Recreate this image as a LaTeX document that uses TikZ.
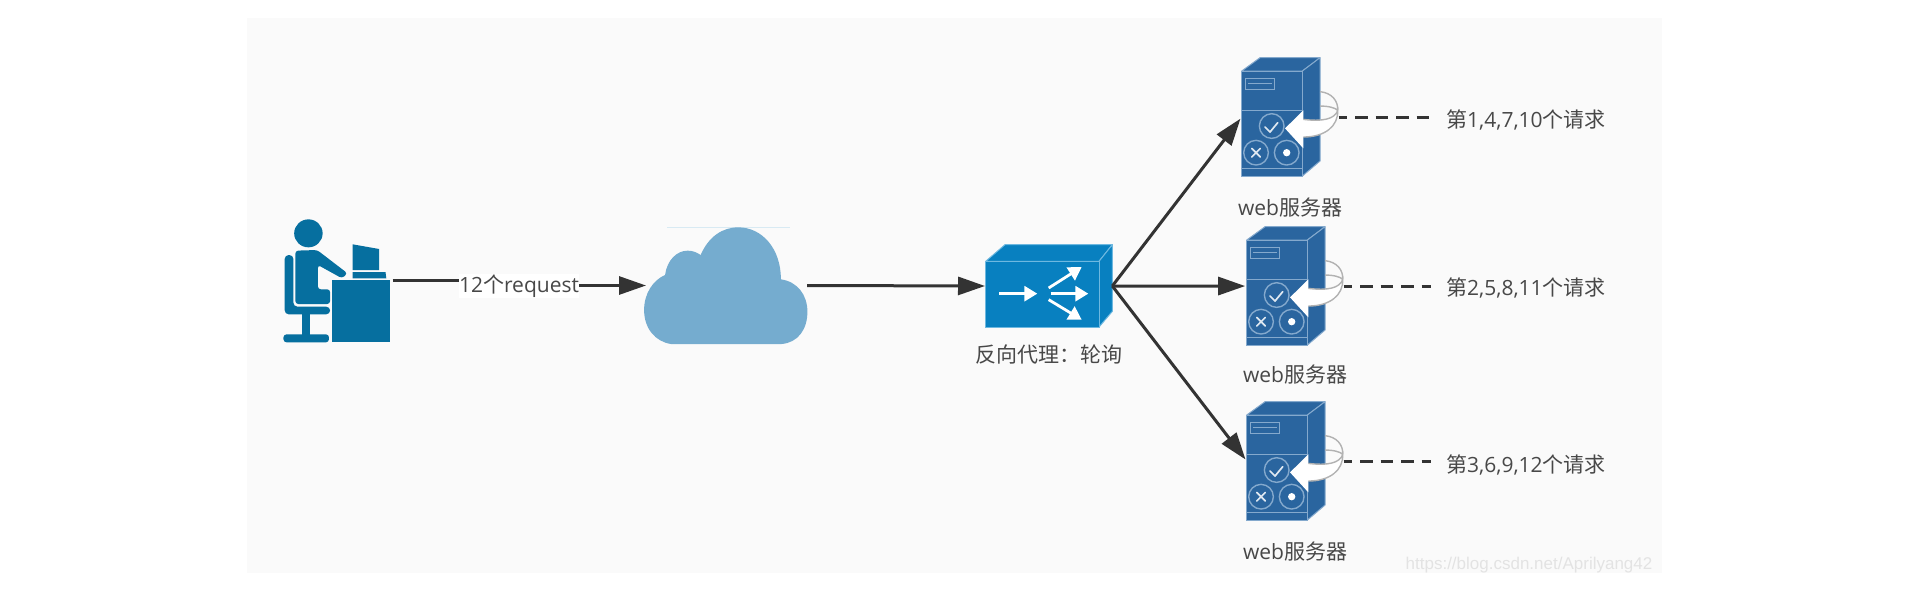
\documentclass[tikz,border=0pt]{standalone}
\usepackage{fontspec}
\setmainfont{Open Sans}
\newfontfamily\cjk{Noto Sans CJK SC}
\newfontfamily\wmfont{Liberation Sans}
\usetikzlibrary{arrows.meta}
\definecolor{pagebg}{HTML}{FAFAFA}
\definecolor{linec}{HTML}{333333}
\definecolor{textc}{HTML}{484848}
\definecolor{userc}{HTML}{066F9F}
\definecolor{cloudc}{HTML}{75ACCF}
\definecolor{cloudl}{HTML}{D8EAF3}
\definecolor{swc}{HTML}{0880C0}
\definecolor{swl}{HTML}{6DB8E0}
\definecolor{srvc}{HTML}{2A659F}
\definecolor{srvl}{HTML}{84A9CD}
\tikzset{
  conn/.style={draw=linec,line width=3pt,-{Triangle[length=27pt,width=18pt]}},
  dashconn/.style={draw=linec,line width=3pt,dash pattern=on 12.5pt off 8pt,dash phase=4pt},
  iconbox/.style={rectangle,inner sep=0pt,outer sep=0pt,anchor=north west},
  lbl/.style={text=textc,font=\fontsize{21}{24}\selectfont,inner sep=0pt},
  srvbox/.style={iconbox,minimum width=97pt,minimum height=118.7pt},
  reqlbl/.style={lbl,anchor=west,inner xsep=15pt},
  srv/.pic={
    \begin{scope}[x=.33333pt,y=-.33333pt,shift={(-286.67pt,6.67pt)}]
      \filldraw[fill=srvc,draw=srvl,line width=1pt,line join=round]
        (860,60) -- (915,20) -- (1095,20) -- (1042,60) -- cycle;
      \filldraw[fill=srvc,draw=srvl,line width=1pt,line join=round]
        (1042,60) -- (1095,20) -- (1095,330) -- (1042,375) -- cycle;
      \filldraw[fill=srvc,draw=srvl,line width=1pt]
        (860,60) rectangle (1042,375);
      \draw[srvl,line width=1.2pt] (860,178) -- (1042,178) (860,352) -- (1042,352);
      \draw[srvl,line width=1.2pt] (872,82) rectangle (958,116) (878,98) -- (952,98);
      \draw[srvl,line width=1.4pt] (950,225) circle[x radius=37,y radius=37]
        (903,305) circle[x radius=37,y radius=37]
        (995,305) circle[x radius=37,y radius=37];
      \draw[white!85!srvc,line width=1.7pt,line cap=round,line join=round]
        (930,228) -- (945,243) -- (968,215)
        (890,292) -- (916,318) (916,292) -- (890,318);
      \fill[white] (995,305) circle[x radius=11,y radius=11];
      \draw[black!30,line width=1.4pt]
        (1095,122) .. controls (1130,125) and (1150,150) .. (1148,178)
        (1095,165) .. controls (1120,165) and (1140,170) .. (1148,178);
      \fill[white] (990,232) -- (1045,178) -- (1045,205)
        .. controls (1100,212) and (1140,205) .. (1148,178)
        .. controls (1150,225) and (1110,258) .. (1045,258)
        -- (1045,292) -- cycle;
      \draw[black!30,line width=1.4pt]
        (1045,205) .. controls (1100,212) and (1140,205) .. (1148,178)
        .. controls (1150,225) and (1110,258) .. (1045,258);
    \end{scope}
  },
  swicon/.pic={
    \begin{scope}[x=.33333pt,y=-.33333pt,shift={(-25pt,24.33pt)}]
      \filldraw[fill=swc,draw=swl,line width=1pt,line join=round]
        (77,125) -- (135,75) -- (457,75) -- (417,125) -- cycle;
      \filldraw[fill=swc,draw=swl,line width=1pt,line join=round]
        (417,125) -- (457,75) -- (457,275) -- (417,322) -- cycle;
      \filldraw[fill=swc,draw=swl,line width=1pt] (77,125) rectangle (417,322);
      \begin{scope}[white,line width=2.8pt,
          arr/.style={-{Triangle[length=13pt,width=15pt]}}]
        \draw[arr] (118,222) -- (232,222);
        \draw[arr] (266,205) -- (365,142);
        \draw[arr] (272,222) -- (385,222);
        \draw[arr] (266,240) -- (365,300);
      \end{scope}
    \end{scope}
  }
}
\begin{document}
\begin{tikzpicture}[x=1pt,y=-1pt]
\useasboundingbox (0,0) rectangle (1911,595);
\fill[white] (0,0) rectangle (1911,595);
\fill[pagebg] (247,17.5) rectangle (1661.7,572.7);

% user icon
\node[iconbox,minimum width=107pt,minimum height=123pt] (user) at (283.5,219) {};
\begin{scope}[shift={(240pt,-180pt)},x=.3954pt,y=-.33333pt]
  \fill[userc] (173,160) ellipse[x radius=36,y radius=42];
  \fill[userc,rounded corners=4pt] (113,225) -- (135,225) -- (135,380) -- (228,380)
     -- (228,403) -- (113,403) -- cycle;
  \fill[userc,rounded corners=3pt] (140,212) -- (195,210) -- (272,280) -- (258,295)
     -- (197,255) -- (197,328) -- (228,328) -- (228,372) -- (140,372) -- cycle;
  \fill[userc] (158,403) rectangle (178,465);
  \fill[userc,rounded corners=3pt] (110,463) rectangle (225,487);
  \fill[userc] (232,300) rectangle (379,485);
  \fill[userc] (285,193) -- (352,207) -- (352,270) -- (285,270) -- cycle;
  \fill[userc] (285,276) -- (368,276) -- (370,295) -- (285,295) -- cycle;
\end{scope}

% cloud icon
\node[iconbox,minimum width=163pt,minimum height=117pt] (cloud) at (644,227) {};
\begin{scope}[shift={(240pt,-180pt)},x=.3954pt,y=-.33333pt]
  \draw[cloudl,line width=1.2pt] (1080,142) -- (1390,142);
  \fill[cloudc] (1090,492)
    .. controls (1050,485) and (1022,445) .. (1022,390)
    .. controls (1022,340) and (1045,300) .. (1075,285)
    .. controls (1080,240) and (1105,212) .. (1132,212)
    .. controls (1145,212) and (1155,217) .. (1165,225)
    .. controls (1185,170) and (1220,142) .. (1260,142)
    .. controls (1320,142) and (1368,205) .. (1368,298)
    .. controls (1410,305) and (1435,345) .. (1435,395)
    .. controls (1435,450) and (1410,488) .. (1370,492)
    -- cycle;
\end{scope}

% switch and servers
\node[iconbox,minimum width=127.3pt,minimum height=84pt] (sw) at (985,244) {};
\pic at (sw.north west) {swicon};
\node[srvbox] (s1) at (1241.7,57.7) {};
\node[srvbox] (s2) at (1246.7,226.7) {};
\node[srvbox] (s3) at (1246.7,401.7) {};
\pic at (s1.north west) {srv};
\pic at (s2.north west) {srv};
\pic at (s3.north west) {srv};

% labels
\node[lbl] (swlabel) at (1049,355) {\cjk 反向代理：轮询};
\node[lbl] (w1) at (1290,207.7) {web\cjk 服务器};
\node[lbl] (w2) at (1295,375) {web\cjk 服务器};
\node[lbl] (w3) at (1295,551.7) {web\cjk 服务器};
\node[reqlbl] (r1) at (1431,120) {{\cjk 第}1,4,7,10{\cjk 个请求}};
\node[reqlbl] (r2) at (1431,288) {{\cjk 第}2,5,8,11{\cjk 个请求}};
\node[reqlbl] (r3) at (1431,465) {{\cjk 第}3,6,9,12{\cjk 个请求}};
\node[anchor=center,inner sep=0pt,text=black!11,font=\wmfont\fontsize{17}{20}\selectfont] (wm) at (1529,565) {https://blog.csdn.net/Aprilyang42};

% connectors
\draw[conn,shorten >=-2pt] (user.east) ++(2,0) -- ++(126,0) |- (cloud.west);
\node[lbl,fill=white,minimum width=120pt,minimum height=24pt] (req) at (519,286) {12{\cjk 个}request};
\draw[conn] (cloud.east) -- (sw.west);
\draw[conn,shorten >=2pt] (sw.east) -- (s1.west);
\draw[conn,shorten >=1.5pt] (sw.east) -- (s2.west);
\draw[conn,shorten >=2pt] (sw.east) -- (s3.west);
\draw[dashconn] (s1.east) -- (r1.west |- s1.east);
\draw[dashconn] (s2.east) -- (r2.west |- s2.east);
\draw[dashconn] (s3.east) -- (r3.west |- s3.east);
\end{tikzpicture}
\end{document}
